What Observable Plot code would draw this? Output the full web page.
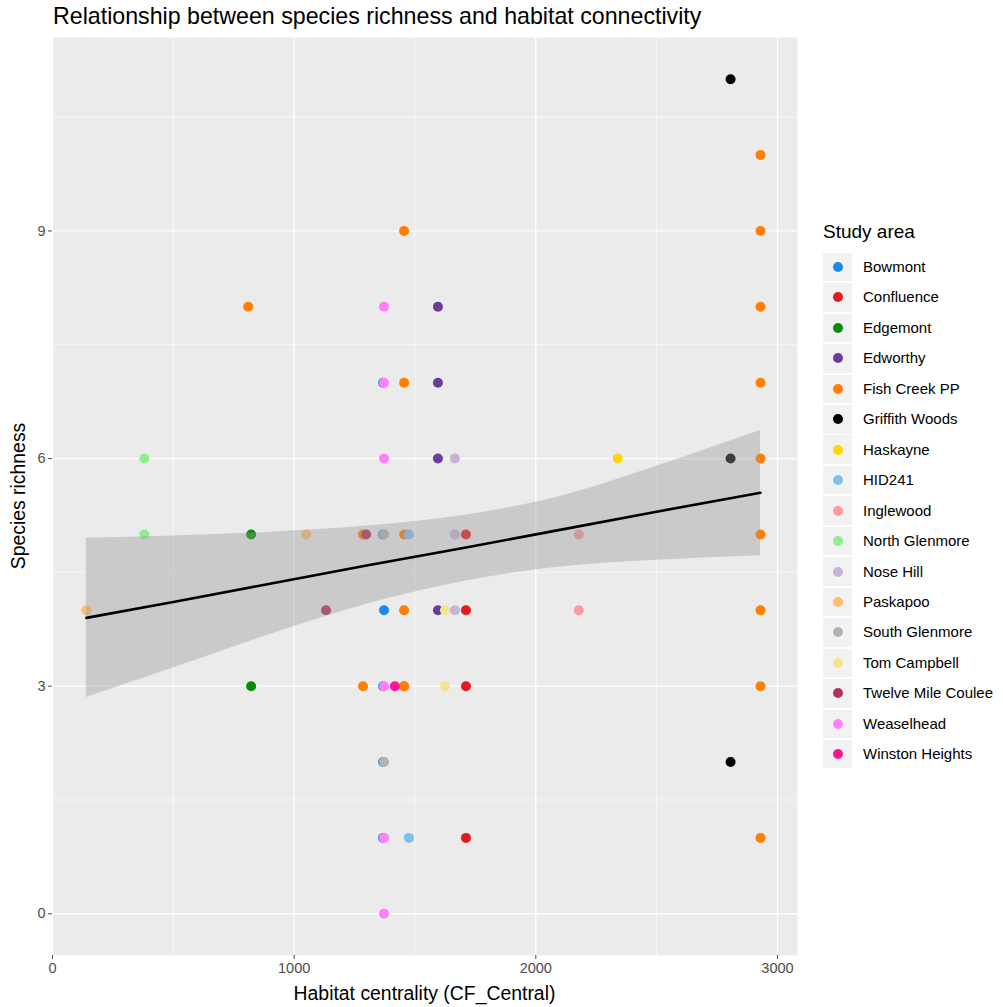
<!DOCTYPE html>
<html>
<head>
<meta charset="utf-8">
<script src="https://cdn.jsdelivr.net/npm/d3@7"></script>
<script src="https://cdn.jsdelivr.net/npm/@observablehq/plot@0.6"></script>
<style>
  body { margin: 0; background: #fff; font-family: "Liberation Sans", Arial, Helvetica, sans-serif; }
  #wrap { position: relative; width: 1003px; height: 1007px; overflow: hidden; }
  #chart { position: absolute; left: 0; top: 0; }
  .title { position: absolute; left: 53px; top: 3px; font-size: 23.2px; color: #000; white-space: nowrap; }
  .xlab { position: absolute; left: 52px; width: 745px; top: 982px; text-align: center; font-size: 19.4px; color: #000; white-space: nowrap; }
  .ylab { position: absolute; left: 18px; top: 496px; transform: translate(-50%, -50%) rotate(-90deg); font-size: 19.4px; color: #000; white-space: nowrap; }
  .legend-title { position: absolute; left: 823px; top: 221px; font-size: 19px; color: #000; white-space: nowrap; }
  .key { position: absolute; left: 823px; width: 29px; height: 28.5px; background: #F2F2F2; }
  .key span { position: absolute; left: 10px; top: 9.25px; width: 10px; height: 10px; border-radius: 50%; }
  .key-label { position: absolute; left: 863px; font-size: 15px; color: #000; white-space: nowrap; line-height: 18px; }
</style>
</head>
<body>
<div id="wrap">
  <div class="title">Relationship between species richness and habitat connectivity</div>
  <div id="chart"></div>
  <div class="xlab">Habitat centrality (CF_Central)</div>
  <div class="ylab">Species richness</div>
  <div class="legend-title">Study area</div>
</div>
<script>
// Study areas, in legend order, with their colours
const studyAreas = ["Bowmont", "Confluence", "Edgemont", "Edworthy", "Fish Creek PP", "Griffith Woods",
  "Haskayne", "HID241", "Inglewood", "North Glenmore", "Nose Hill", "Paskapoo", "South Glenmore",
  "Tom Campbell", "Twelve Mile Coulee", "Weaselhead", "Winston Heights"];
const areaColors = ["#1E88F0", "#E41A1C", "#0A8C0A", "#6A3D9A", "#FF7F00", "#000000",
  "#FFD700", "#80C0EE", "#FB9A99", "#90EE90", "#CAB2D6", "#FDBF6F", "#B3B3B3",
  "#F0E68C", "#B03060", "#FF80F8", "#FF1493"];

// One entry per sampling site: study area, habitat centrality and species richness
const siteArea = [
  "Bowmont", "Bowmont", "Bowmont", "Bowmont", "Bowmont", "Bowmont",
  "Confluence", "Confluence", "Confluence", "Confluence",
  "Edgemont", "Edgemont",
  "Edworthy", "Edworthy", "Edworthy", "Edworthy",
  "Fish Creek PP", "Fish Creek PP", "Fish Creek PP", "Fish Creek PP", "Fish Creek PP", "Fish Creek PP",
  "Fish Creek PP", "Fish Creek PP", "Fish Creek PP", "Fish Creek PP", "Fish Creek PP", "Fish Creek PP",
  "Fish Creek PP", "Fish Creek PP", "Fish Creek PP", "Fish Creek PP", "Fish Creek PP", "Fish Creek PP",
  "Griffith Woods", "Griffith Woods", "Griffith Woods",
  "Haskayne",
  "HID241", "HID241",
  "Inglewood", "Inglewood",
  "North Glenmore", "North Glenmore",
  "Nose Hill", "Nose Hill", "Nose Hill",
  "Paskapoo", "Paskapoo",
  "South Glenmore", "South Glenmore",
  "Tom Campbell", "Tom Campbell",
  "Twelve Mile Coulee", "Twelve Mile Coulee",
  "Weaselhead", "Weaselhead", "Weaselhead", "Weaselhead", "Weaselhead", "Weaselhead",
  "Winston Heights"
];
const siteCentrality = [
  1368, 1368, 1368, 1368, 1368, 1372,
  1711, 1711, 1711, 1711,
  822, 822,
  1595, 1595, 1595, 1595,
  810, 1285, 1285, 1455, 1455, 1455,
  1455, 1455, 2930, 2930, 2930, 2930,
  2930, 2930, 2930, 2930, 2930, 1455,
  2806, 2806, 2806,
  2339,
  1475, 1475,
  2178, 2178,
  380, 380,
  1665, 1665, 1665,
  140, 1050,
  1372, 1372,
  1624, 1624,
  1132, 1298,
  1372, 1372, 1372, 1372, 1372, 1372,
  1417
];
const siteRichness = [
  7, 5, 3, 2, 1, 4,
  5, 4, 3, 1,
  5, 3,
  8, 7, 6, 4,
  8, 5, 3, 9, 7, 5,
  4, 3, 10, 9, 8, 7,
  6, 5, 4, 3, 1, 3,
  11, 6, 2,
  6,
  5, 1,
  5, 4,
  6, 5,
  6, 5, 4,
  4, 5,
  5, 2,
  4, 3,
  4, 5,
  8, 7, 6, 3, 1, 0,
  3
];

// Linear fit of richness on centrality with its 95% confidence band
const fitCentrality = [140, 500, 900, 1300, 1700, 2100, 2500, 2930];
const fitRichness   = [3.90, 4.11, 4.35, 4.59, 4.82, 5.06, 5.30, 5.55];
const fitLower      = [2.85, 3.24, 3.68, 4.08, 4.38, 4.57, 4.66, 4.72];
const fitUpper      = [4.95, 4.98, 5.03, 5.11, 5.25, 5.50, 5.90, 6.37];

const sites = siteArea.map((area, i) => ({area, centrality: siteCentrality[i], richness: siteRichness[i]}));
const fit = fitCentrality.map((x, i) => ({x, y: fitRichness[i], lo: fitLower[i], hi: fitUpper[i]}));

const white = {stroke: "#FFFFFF", strokeOpacity: 1};
const plain = d => String(d);

const chart = Plot.plot({
  width: 800,
  height: 1007,
  marginLeft: 52,
  marginRight: 3,
  marginTop: 37,
  marginBottom: 52,
  style: {background: "transparent", fontFamily: "'Liberation Sans', Arial, sans-serif"},
  x: {domain: [0, 3083]},
  y: {domain: [-0.55, 11.55]},
  color: {domain: studyAreas, range: areaColors},
  marks: [
    Plot.frame({fill: "#EBEBEB", stroke: null}),
    Plot.gridX([500, 1500, 2500], {...white, strokeWidth: 0.6}),
    Plot.gridY([1.5, 4.5, 7.5, 10.5], {...white, strokeWidth: 0.6}),
    Plot.gridX([0, 1000, 2000, 3000], {...white, strokeWidth: 1.3}),
    Plot.gridY([0, 3, 6, 9], {...white, strokeWidth: 1.3}),
    Plot.dot(sites, {x: "centrality", y: "richness", fill: "area", r: 5}),
    Plot.areaY(fit, {x: "x", y1: "lo", y2: "hi", fill: "#999999", fillOpacity: 0.4, curve: "monotone-x"}),
    Plot.line(fit, {x: "x", y: "y", stroke: "#000", strokeWidth: 2.6}),
    Plot.axisX({ticks: [0, 1000, 2000, 3000], tickFormat: plain, tickSize: 4, tickPadding: 3,
      fontSize: 14.5, color: "#4D4D4D", label: null}),
    Plot.axisY({ticks: [0, 3, 6, 9], tickFormat: plain, tickSize: 4, tickPadding: 3,
      fontSize: 14.5, color: "#4D4D4D", label: null})
  ]
});
document.getElementById("chart").appendChild(chart);

// Legend keys for the study areas
const wrap = document.getElementById("wrap");
studyAreas.forEach((name, i) => {
  const cy = 267 + 30.45 * i;
  const key = document.createElement("div");
  key.className = "key";
  key.style.top = (cy - 14.25) + "px";
  const dot = document.createElement("span");
  dot.style.background = areaColors[i];
  key.appendChild(dot);
  wrap.appendChild(key);
  const label = document.createElement("div");
  label.className = "key-label";
  label.style.top = (cy - 9) + "px";
  label.textContent = name;
  wrap.appendChild(label);
});
</script>
</body>
</html>
